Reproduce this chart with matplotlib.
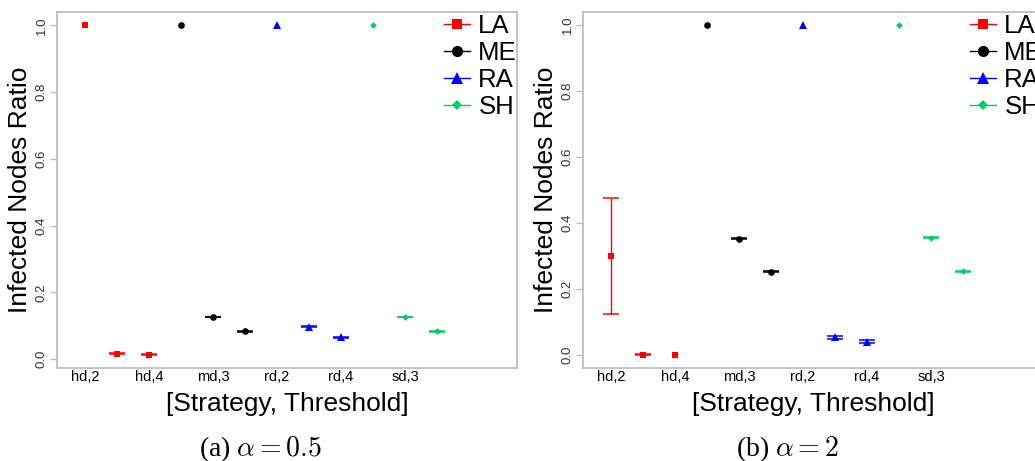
import numpy as np
import matplotlib
matplotlib.use("Agg")
import matplotlib.pyplot as plt
from matplotlib.lines import Line2D

plt.rcParams['font.family'] = ['Liberation Sans', 'DejaVu Sans']
plt.rcParams['mathtext.fontset'] = 'cm'

# ---- data ----
categories = ["hd,2", "hd,3", "hd,4", "md,2", "md,3", "md,4",
              "rd,2", "rd,3", "rd,4", "sd,2", "sd,3", "sd,4"]
tick_labels = ["hd,2", "hd,4", "md,3", "rd,2", "rd,4", "sd,3"]
series_names = ["LA", "ME", "RA", "SH"]
series_cats = {
    "LA": ["hd,2", "hd,3", "hd,4"],
    "ME": ["md,2", "md,3", "md,4"],
    "RA": ["rd,2", "rd,3", "rd,4"],
    "SH": ["sd,2", "sd,3", "sd,4"],
}

# panel (a) alpha = 0.5
a_LA = [1.0, 0.016, 0.013]
a_ME = [1.0, 0.126, 0.083]
a_RA = [1.0, 0.097, 0.065]
a_SH = [1.0, 0.126, 0.083]
a_LA_err = [np.nan, 0.001, 0.001]
a_ME_err = [np.nan, 0.001, 0.001]
a_RA_err = [np.nan, 0.001, 0.001]
a_SH_err = [np.nan, 0.001, 0.001]

# panel (b) alpha = 2
b_LA = [0.300, 0.0, 0.0]
b_ME = [1.0, 0.352, 0.252]
b_RA = [1.0, 0.053, 0.040]
b_SH = [1.0, 0.355, 0.253]
b_LA_err = [0.175, 0.001, np.nan]
b_ME_err = [np.nan, 0.001, 0.001]
b_RA_err = [np.nan, 0.005, 0.004]
b_SH_err = [np.nan, 0.001, 0.001]

captions = [r"(a) $\alpha = 0.5$", r"(b) $\alpha = 2$"]
y_label = "Infected Nodes Ratio"
x_label = "[Strategy, Threshold]"

# ---- style ----
colors = {"LA": "#FF0000", "ME": "#000000", "RA": "#0000FF", "SH": "#00CD66"}
markers = {"LA": "s", "ME": "o", "RA": "^", "SH": "D"}
msizes = {"LA": 4.6, "ME": 4.8, "RA": 5.2, "SH": 3.4}
leg_msizes = {"LA": 7.5, "ME": 8, "RA": 9, "SH": 5.5}
frame_col = "#BEBEBE"

panels = [
    ({"LA": a_LA, "ME": a_ME, "RA": a_RA, "SH": a_SH},
     {"LA": a_LA_err, "ME": a_ME_err, "RA": a_RA_err, "SH": a_SH_err},
     (-0.0265, 1.04)),
    ({"LA": b_LA, "ME": b_ME, "RA": b_RA, "SH": b_SH},
     {"LA": b_LA_err, "ME": b_ME_err, "RA": b_RA_err, "SH": b_SH_err},
     (-0.04, 1.04)),
]

W, H = 1035, 461
fig = plt.figure(figsize=(W / 100, H / 100), dpi=100)
lefts = [57, 583]
cap_x = [260, 787]
for i, (vals, errs, ylim) in enumerate(panels):
    ax = fig.add_axes([lefts[i] / W, (H - 368) / H, 460 / W, 356 / H])
    for name in series_names:
        xs = [categories.index(c) + 1 for c in series_cats[name]]
        ax.errorbar(xs, vals[name], yerr=errs[name], fmt='none',
                    ecolor=colors[name], elinewidth=1.0, capsize=6.1,
                    capthick=1.1, zorder=2)
        ax.plot(xs, vals[name], linestyle='none', marker=markers[name],
                color=colors[name], ms=msizes[name], mew=0, zorder=3)
    ax.set_xlim(0.125, 14.5)
    ax.set_ylim(*ylim)
    ax.set_xticks([categories.index(t) + 1 for t in tick_labels])
    ax.set_xticklabels(tick_labels, fontsize=10.5)
    ax.tick_params(axis='x', length=0, pad=1.5)
    ax.set_yticks([0.0, 0.2, 0.4, 0.6, 0.8, 1.0])
    ax.set_yticklabels(["0.0", "0.2", "0.4", "0.6", "0.8", "1.0"],
                       rotation=90, va='center', fontsize=9.5, color="#333333")
    ax.tick_params(axis='y', length=5, width=1.0, color=frame_col,
                   direction='out', pad=1.5)
    for sp in ax.spines.values():
        sp.set_color(frame_col)
        sp.set_linewidth(1.3)
    ax.set_ylabel(y_label, fontsize=19, labelpad=3)
    ax.set_xlabel(x_label, fontsize=19, labelpad=6)
    handles = [Line2D([0], [0], color=colors[n], marker=markers[n],
                      ms=leg_msizes[n], mew=0, lw=1.0)
               for n in series_names]
    leg = ax.legend(handles, series_names, loc='upper right',
                    bbox_to_anchor=(1.0, 0.995), frameon=False, fontsize=18.5,
                    handlelength=1.0, handletextpad=0.33, labelspacing=0.12,
                    borderaxespad=0.0, borderpad=0.0)
    fig.text(cap_x[i] / W, (H - 449) / H, captions[i], ha='center',
             va='center', fontsize=20,
             family=['Liberation Serif', 'DejaVu Serif'])

fig.savefig("out.png", dpi=100)
